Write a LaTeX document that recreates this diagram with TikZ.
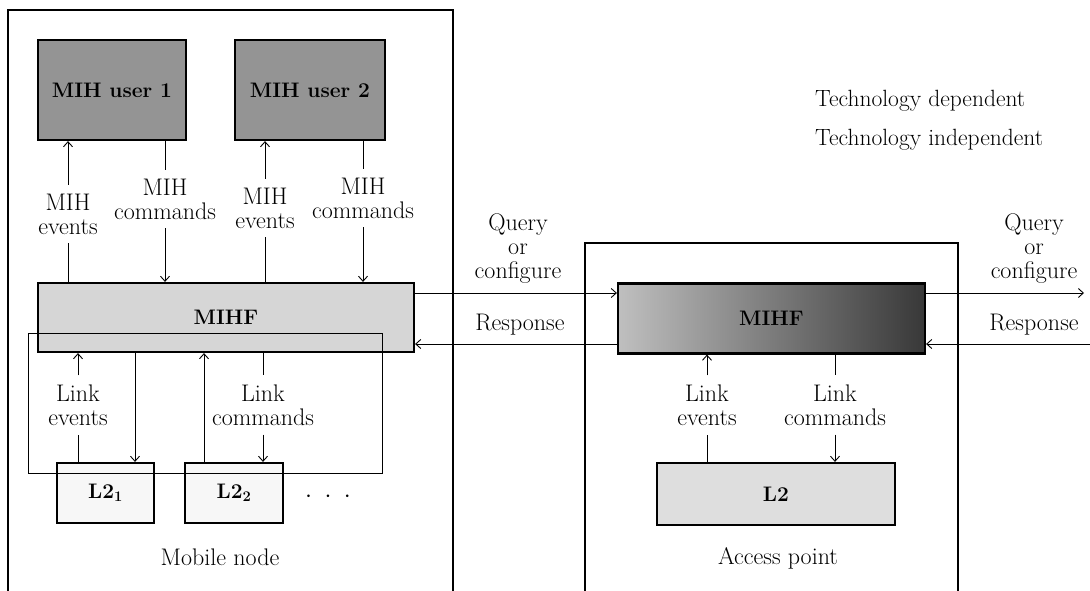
\documentclass[tikz,border=0pt]{standalone}
\usepackage{fontspec}
\usetikzlibrary{arrows.meta}
\tikzset{
  box/.style={draw, line width=2.2pt, inner sep=0pt, font=\fontsize{21}{22}\selectfont\bfseries},
  lab/.style={align=center, inner xsep=2pt, inner ysep=9pt, font=\fontsize{24}{24}\selectfont\addfontfeature{LetterSpace=6}},
  techlab/.style={inner sep=2pt, font=\fontsize{23.5}{24}\selectfont\addfontfeature{LetterSpace=5}},
  ln/.style={line width=0.9pt},
  arr/.style={line width=0.9pt, -{Straight Barb[length=5pt,width=9pt,line width=0.9pt]}},
  frame/.style={line width=1.7pt},
}
\begin{document}
\begin{tikzpicture}[x=1pt,y=-1pt]
\useasboundingbox (0,0) rectangle (1090,591);
\clip (0,0) rectangle (1090,591);

% containers
\draw[frame] (8,600) |- (453,10) -- (453,600);
\draw[frame] (585,600) |- (958,243) -- (958,600);

% boxes
\node[box, fill=black!42, minimum width=148, minimum height=100] (u1) at (112,90) {MIH user 1};
\node[box, fill=black!42, minimum width=150, minimum height=100] (u2) at (310,90) {MIH user 2};
\node[box, fill=black!16, minimum width=376, minimum height=69] (mihfA) at (226,317.5) {MIHF};
\node[box, fill=black!3, minimum width=97, minimum height=60] (l21) at (105.5,493) {L2\textsubscript{1}};
\node[box, fill=black!3, minimum width=98, minimum height=60] (l22) at (234,493) {L2\textsubscript{2}};
\node[box, left color=black!25, right color=black!78, minimum width=307, minimum height=70] (mihfB) at (771.5,318.5) {MIHF};
\node[box, fill=black!13, minimum width=238, minimum height=62] (l2B) at (776,494) {L2};

% thin inner boundary
\draw[line width=0.7pt] (28,333) rectangle (382,473);

% labels
\node[lab] (ev1) at (68,214) {MIH\\events};
\node[lab] (cm1) at (165,199) {MIH\\commands};
\node[lab] (ev2) at (265,208) {MIH\\events};
\node[lab] (cm2) at (363,198) {MIH\\commands};
\node[lab] (lev) at (78,405) {Link\\events};
\node[lab] (lcm) at (263,405) {Link\\commands};
\node[lab] (alev) at (707,405) {Link\\events};
\node[lab] (alcm) at (835,405) {Link\\commands};
\node[lab] (qL) at (518,249) {Query\\or\\configure};
\node[lab] (rL) at (520,325) {Response};
\node[lab] (qR) at (1034,249) {Query\\or\\configure};
\node[lab] (rR) at (1034,325) {Response};
\node[techlab, anchor=west] (td) at (813,101) {Technology dependent};
\node[techlab, anchor=west] (ti) at (813,140) {Technology independent};
\node[lab] (mn) at (220,557) {Mobile node};
\node[lab] (ap) at (778,558) {Access point};
\node[lab] (dots) at (328,497) {$\cdot\mkern5mu\cdot\mkern5mu\cdot$};

% helper coordinates
\coordinate (qy) at (0,293);
\coordinate (ry) at (0,344);
\coordinate (qend) at (1084,293);
\coordinate (rstart) at (1092,344);
\coordinate (dn1) at (135,0);
\coordinate (up2) at (204,0);

% MIH user <-> MIHF
\draw[ln] (mihfA.north -| ev1) -- (ev1.south);
\draw[arr] (ev1.north) -- (u1.south -| ev1);
\draw[ln] (u1.south -| cm1) -- (cm1.north);
\draw[arr] (cm1.south) -- (mihfA.north -| cm1);
\draw[ln] (mihfA.north -| ev2) -- (ev2.south);
\draw[arr] (ev2.north) -- (u2.south -| ev2);
\draw[ln] (u2.south -| cm2) -- (cm2.north);
\draw[arr] (cm2.south) -- (mihfA.north -| cm2);

% MIHF <-> L2 (mobile)
\draw[ln] (l21.north -| lev) -- (lev.south);
\draw[arr] (lev.north) -- (mihfA.south -| lev);
\draw[arr] (mihfA.south -| dn1) -- (l21.north -| dn1);
\draw[arr] (l22.north -| up2) -- (mihfA.south -| up2);
\draw[ln] (mihfA.south -| lcm) -- (lcm.north);
\draw[arr] (lcm.south) -- (l22.north -| lcm);

% MIHF <-> L2 (access point)
\draw[ln] (l2B.north -| alev) -- (alev.south);
\draw[arr] (alev.north) -- (mihfB.south -| alev);
\draw[ln] (mihfB.south -| alcm) -- (alcm.north);
\draw[arr] (alcm.south) -- (l2B.north -| alcm);

% query / response
\draw[arr] (mihfA.east |- qy) -- (mihfB.west |- qy);
\draw[arr] (mihfB.west |- ry) -- (mihfA.east |- ry);
\draw[arr] (mihfB.east |- qy) -- (qend);
\draw[arr] (rstart) -- (mihfB.east |- ry);
\end{tikzpicture}
\end{document}
